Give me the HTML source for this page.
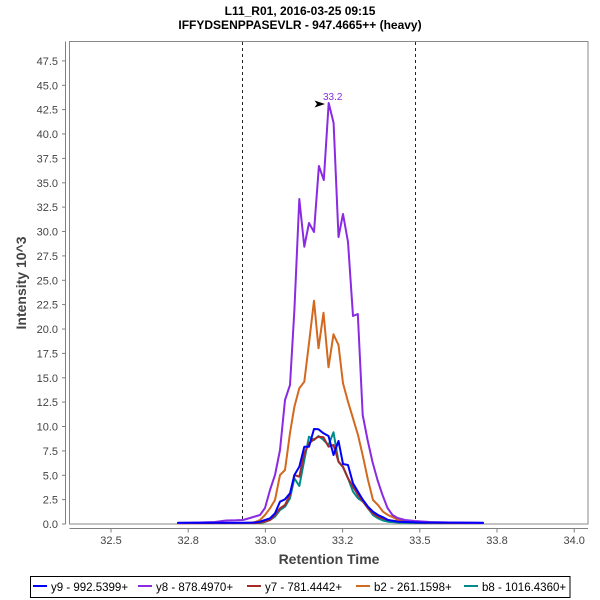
<!DOCTYPE html>
<html>
<head>
<meta charset="utf-8">
<style>
  html, body { margin: 0; padding: 0; background: #ffffff; }
  body { width: 600px; height: 600px; overflow: hidden; }
  svg { display: block; }
  text { font-family: "Liberation Sans", Arial, sans-serif; }
</style>
</head>
<body>
<svg width="600" height="600" viewBox="0 0 600 600" xmlns="http://www.w3.org/2000/svg">
  <rect x="0" y="0" width="600" height="600" fill="#ffffff"/>

  <!-- Title -->
  <text x="300" y="15" text-anchor="middle" font-size="12" font-weight="bold" fill="#000">L11_R01, 2016-03-25 09:15</text>
  <text x="300" y="29" text-anchor="middle" font-size="12" font-weight="bold" fill="#000">IFFYDSENPPASEVLR - 947.4665++ (heavy)</text>

  <!-- Plot frame -->
  <rect x="69.5" y="41.5" width="518.5" height="482.5" fill="#ffffff" stroke="#888888" stroke-width="1"/>

  <!-- Y axis -->
  <line x1="65.5" y1="41.5" x2="65.5" y2="524" stroke="#808080" stroke-width="1"/>
  <g stroke="#808080" stroke-width="1">
    <line x1="62" y1="524" x2="65.5" y2="524"/>
    <line x1="62" y1="499.6" x2="65.5" y2="499.6"/>
    <line x1="62" y1="475.3" x2="65.5" y2="475.3"/>
    <line x1="62" y1="450.9" x2="65.5" y2="450.9"/>
    <line x1="62" y1="426.5" x2="65.5" y2="426.5"/>
    <line x1="62" y1="402.1" x2="65.5" y2="402.1"/>
    <line x1="62" y1="377.8" x2="65.5" y2="377.8"/>
    <line x1="62" y1="353.4" x2="65.5" y2="353.4"/>
    <line x1="62" y1="329" x2="65.5" y2="329"/>
    <line x1="62" y1="304.6" x2="65.5" y2="304.6"/>
    <line x1="62" y1="280.3" x2="65.5" y2="280.3"/>
    <line x1="62" y1="255.9" x2="65.5" y2="255.9"/>
    <line x1="62" y1="231.5" x2="65.5" y2="231.5"/>
    <line x1="62" y1="207.1" x2="65.5" y2="207.1"/>
    <line x1="62" y1="182.8" x2="65.5" y2="182.8"/>
    <line x1="62" y1="158.4" x2="65.5" y2="158.4"/>
    <line x1="62" y1="134" x2="65.5" y2="134"/>
    <line x1="62" y1="109.6" x2="65.5" y2="109.6"/>
    <line x1="62" y1="85.3" x2="65.5" y2="85.3"/>
    <line x1="62" y1="60.9" x2="65.5" y2="60.9"/>
  </g>
  <g font-size="11" fill="#444444" text-anchor="end">
    <text x="58" y="528">0.0</text>
    <text x="58" y="503.6">2.5</text>
    <text x="58" y="479.3">5.0</text>
    <text x="58" y="454.9">7.5</text>
    <text x="58" y="430.5">10.0</text>
    <text x="58" y="406.1">12.5</text>
    <text x="58" y="381.8">15.0</text>
    <text x="58" y="357.4">17.5</text>
    <text x="58" y="333">20.0</text>
    <text x="58" y="308.6">22.5</text>
    <text x="58" y="284.3">25.0</text>
    <text x="58" y="259.9">27.5</text>
    <text x="58" y="235.5">30.0</text>
    <text x="58" y="211.1">32.5</text>
    <text x="58" y="186.8">35.0</text>
    <text x="58" y="162.4">37.5</text>
    <text x="58" y="138">40.0</text>
    <text x="58" y="113.6">42.5</text>
    <text x="58" y="89.3">45.0</text>
    <text x="58" y="64.9">47.5</text>
  </g>
  <text x="26" y="283" transform="rotate(-90 26 283)" text-anchor="middle" font-size="14" font-weight="bold" fill="#444444">Intensity 10^3</text>

  <!-- X axis -->
  <line x1="69.5" y1="528.5" x2="588" y2="528.5" stroke="#808080" stroke-width="1"/>
  <g stroke="#808080" stroke-width="1">
    <line x1="111" y1="528.5" x2="111" y2="532.5"/>
    <line x1="188.2" y1="528.5" x2="188.2" y2="532.5"/>
    <line x1="265.4" y1="528.5" x2="265.4" y2="532.5"/>
    <line x1="342.6" y1="528.5" x2="342.6" y2="532.5"/>
    <line x1="419.8" y1="528.5" x2="419.8" y2="532.5"/>
    <line x1="497" y1="528.5" x2="497" y2="532.5"/>
    <line x1="574.2" y1="528.5" x2="574.2" y2="532.5"/>
  </g>
  <g font-size="11" fill="#444444" text-anchor="middle">
    <text x="111" y="544">32.5</text>
    <text x="188.2" y="544">32.8</text>
    <text x="265.4" y="544">33.0</text>
    <text x="342.6" y="544">33.2</text>
    <text x="419.8" y="544">33.5</text>
    <text x="497" y="544">33.8</text>
    <text x="574.2" y="544">34.0</text>
  </g>
  <text x="329" y="564" text-anchor="middle" font-size="14" font-weight="bold" fill="#444444">Retention Time</text>

  <!-- Integration boundaries -->
  <line x1="242.5" y1="42" x2="242.5" y2="524" stroke="#222" stroke-width="1" stroke-dasharray="3,3"/>
  <line x1="415.5" y1="42" x2="415.5" y2="524" stroke="#222" stroke-width="1" stroke-dasharray="3,3"/>

  <!-- Series (reverse order so y9 is on top) -->
  <g fill="none" stroke-width="2" stroke-linejoin="round" stroke-linecap="round">
    <!-- b8 teal -->
    <polyline stroke="#008B8B" points="178,523 240,523 255,523 260,523 265,522 270,520 275,516.7 280,510 285,506.7 290,498.3 294.4,478.3 299.3,486 304.3,460 309,436.7 314,440 318.5,436 323.5,440 328.5,445 333.5,432.3 338.5,461.7 343,467.3 348,478.3 353,491.7 358,498.3 363,501.7 368,508.3 373,515 378,518.3 383,520.5 388,521.7 398,522.5 420,523 483,523"/>
    <!-- b2 orange -->
    <polyline stroke="#D2691E" points="178,523.3 250,523 255,522 260,520 265,515 270,508.3 275,500 280,475 285,470 290,433 294.4,406.7 299.3,388.3 304.3,381.7 309,343.3 314,300.7 318.5,348.3 323.5,312.7 328.5,367.3 333.5,334.3 338.5,345 343,383.3 348,401.7 353,418.3 358,435 363,456.7 368,480 373,500 378,505 383,511.7 388,515 393,517.3 398,520 405,521.5 420,522.5 483,523"/>
    <!-- y7 brown -->
    <polyline stroke="#A52A2A" points="178,523 255,523 260,522.7 265,521.5 270,520 275,515 280,508.3 285,505 290,495 294.4,475 299.3,476.7 304.3,453.3 309,443.3 314,439.3 318.5,436.7 323.5,437.3 328.5,446.7 333.5,445 338.5,461.7 343,466.7 348,478.3 353,486.7 358,495 363,501.7 368,508.3 373,513.3 378,516.7 383,518.5 388,520 398,521.5 420,522.8 483,523"/>
    <!-- y8 purple -->
    <polyline stroke="#8A2BE2" points="178,523 200,522.5 215,522 226,520.5 236,520.3 243,520 250,518 255,516.5 260,515 265,508 270,490 275,475 280,450 285,400 290,385 294.4,310 299.3,199 304.3,246.7 309,223 314,232 318.9,166 323.8,180 328.7,103 333.6,123 338.5,237 343,214 348,242 353,316 357.8,314 362.7,415 367.6,440 372.5,462 377.5,480 382.5,495 387.5,508 392.5,515 397.5,518 405,520 415,521 430,522 450,522.5 483,523"/>
    <!-- y9 blue -->
    <polyline stroke="#0000FF" points="178,522.8 243,522.8 255,522.5 260,521.7 265,520 270,518.3 275,513.3 280,501.7 285,499.3 290,493.3 294.4,475 299.3,466.7 304.3,446.7 309,446.7 314,429 318.5,429.3 323.5,433.3 328.5,436 333.5,455 338.5,441 343,464 348,465 353,483.3 358,491.7 363,500 368,506.7 373,511.7 378,515 383,517.3 388,520 398,521.7 420,522.5 483,522.8"/>
  </g>

  <!-- Peak annotation -->
  <polygon points="314.5,100.5 325,104 314.5,107.5 317,104" fill="#000"/>
  <text x="323" y="100" font-size="10" fill="#8A2BE2">33.2</text>

  <!-- Legend -->
  <rect x="30.5" y="576.5" width="539.5" height="21" fill="#ffffff" stroke="#000" stroke-width="1"/>
  <g stroke-width="2">
    <line x1="33" y1="586" x2="47" y2="586" stroke="#0000FF"/>
    <line x1="138" y1="586" x2="152" y2="586" stroke="#8A2BE2"/>
    <line x1="247" y1="586" x2="261" y2="586" stroke="#A52A2A"/>
    <line x1="356" y1="586" x2="370" y2="586" stroke="#D2691E"/>
    <line x1="464" y1="586" x2="478" y2="586" stroke="#008B8B"/>
  </g>
  <g font-size="11.5" fill="#000">
    <text x="51" y="591">y9 - 992.5399+</text>
    <text x="156" y="591">y8 - 878.4970+</text>
    <text x="265" y="591">y7 - 781.4442+</text>
    <text x="374" y="591">b2 - 261.1598+</text>
    <text x="482" y="591">b8 - 1016.4360+</text>
  </g>
</svg>
</body>
</html>
